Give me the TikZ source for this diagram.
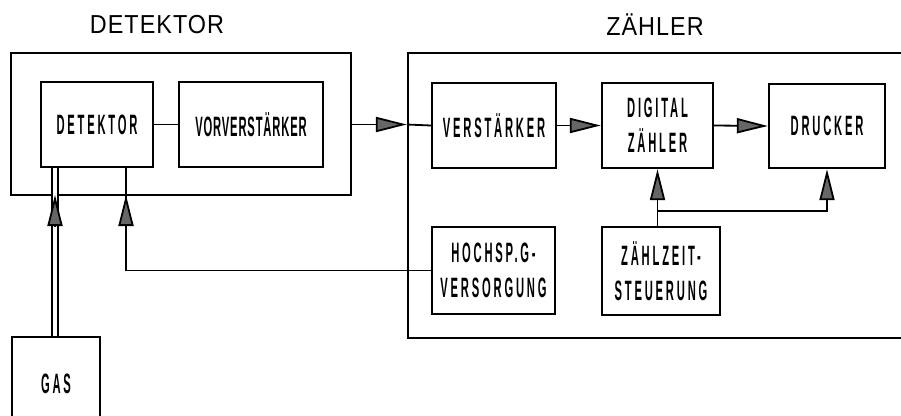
\documentclass[tikz,border=0pt]{standalone}
\usepackage{fontspec}
\newfontfamily\boxfont[FakeStretch=0.4,LetterSpace=10]{Liberation Sans}
\newfontfamily\boxfonttight[FakeStretch=0.4,LetterSpace=3]{Liberation Sans}
\newfontfamily\titlefont[FakeStretch=0.9,LetterSpace=4]{Liberation Sans}
\usetikzlibrary{arrows.meta,calc,positioning}
\tikzset{
    blk/.style={draw=black,line width=2.4pt,align=center,inner sep=0pt,
        font=\boxfont\bfseries\fontsize{28}{35}\selectfont},
    grp/.style={draw=black,line width=2.4pt,inner sep=0pt},
    ttl/.style={font=\titlefont\fontsize{26}{30}\selectfont},
    link/.style={line width=1.8pt,draw=black},
    arr/.style={link,-{Triangle[length=31pt,width=15pt,fill=black!60]}},
}

\begin{document}
\begin{tikzpicture}[x=1pt,y=-1pt]
  \useasboundingbox (0,0) rectangle (901,415);
  \clip (0,0) rectangle (901,415);
  % groups
  \node[grp,minimum width=340pt,minimum height=142pt] (leftgrp) at (181,124) {};
  \node[grp,minimum width=520pt,minimum height=285pt] (rightgrp) at (668,195.5) {};
  \node[ttl] (lefttitle) at (157,25) {DETEKTOR};
  \node[ttl] (righttitle) at (655,25) {ZÄHLER};
  % blocks
  \node[blk,minimum width=112pt,minimum height=85pt] (det) at (97,124.5) {DETEKTOR};
  \node[blk,minimum width=144pt,minimum height=85pt,font=\boxfonttight\bfseries\fontsize{28}{35}\selectfont] (vorv) at (251,124.5) {VORVERSTÄRKER};
  \node[blk,minimum width=124pt,minimum height=85pt] (verst) at (494,125.5) {VERSTÄRKER};
  \node[blk,minimum width=111pt,minimum height=85pt] (dig) at (657.5,125.5) {DIGITAL\\ZÄHLER};
  \node[blk,minimum width=116pt,minimum height=84pt] (druck) at (827,126) {DRUCKER};
  \node[blk,minimum width=123pt,minimum height=87pt] (hochsp) at (493.5,270.5) {HOCHSP.G-\\VERSORGUNG};
  \node[blk,minimum width=118pt,minimum height=88pt] (zeit) at (661,271) {ZÄHLZEIT-\\STEUERUNG};
  \node[blk,minimum width=88pt,minimum height=120pt,anchor=north] (gas) at (56,336) {\raisebox{26pt}{GAS}};
  % connectors
  \draw[link] (det.east) -- (vorv.east -| vorv.west);
  \coordinate (inR) at (vorv.east -| rightgrp.west);
  \draw[arr] (vorv.east -| leftgrp.east) -- (inR);
  \draw[link] (inR) -- (verst.west);
  \draw[arr] (verst.east) -- (dig.west);
  \draw[arr] (dig.east) -- (druck.west);
  \draw[arr] (dig.south |- zeit.north) -- (dig.south);
  \coordinate (split) at ($(dig.south |- zeit.north)+(0,-15)$);
  \draw[arr] (split) -| (druck.south);
  % high voltage supply back to the detector
  \coordinate (hv) at (126,195);
  \draw[link] (hochsp.west) -| (hv |- det.south);
  \draw[arr] ($(hv)+(0,60)$) -- (hv);
  % gas feed
  \coordinate (gv) at (55,195);
  \draw[double=white,double distance=4.5pt,line width=1.3pt] (gv |- gas.north) -- (gv |- det.south);
  \draw[arr] ($(gv)+(0,31)$) -- (gv);
\end{tikzpicture}
\end{document}
